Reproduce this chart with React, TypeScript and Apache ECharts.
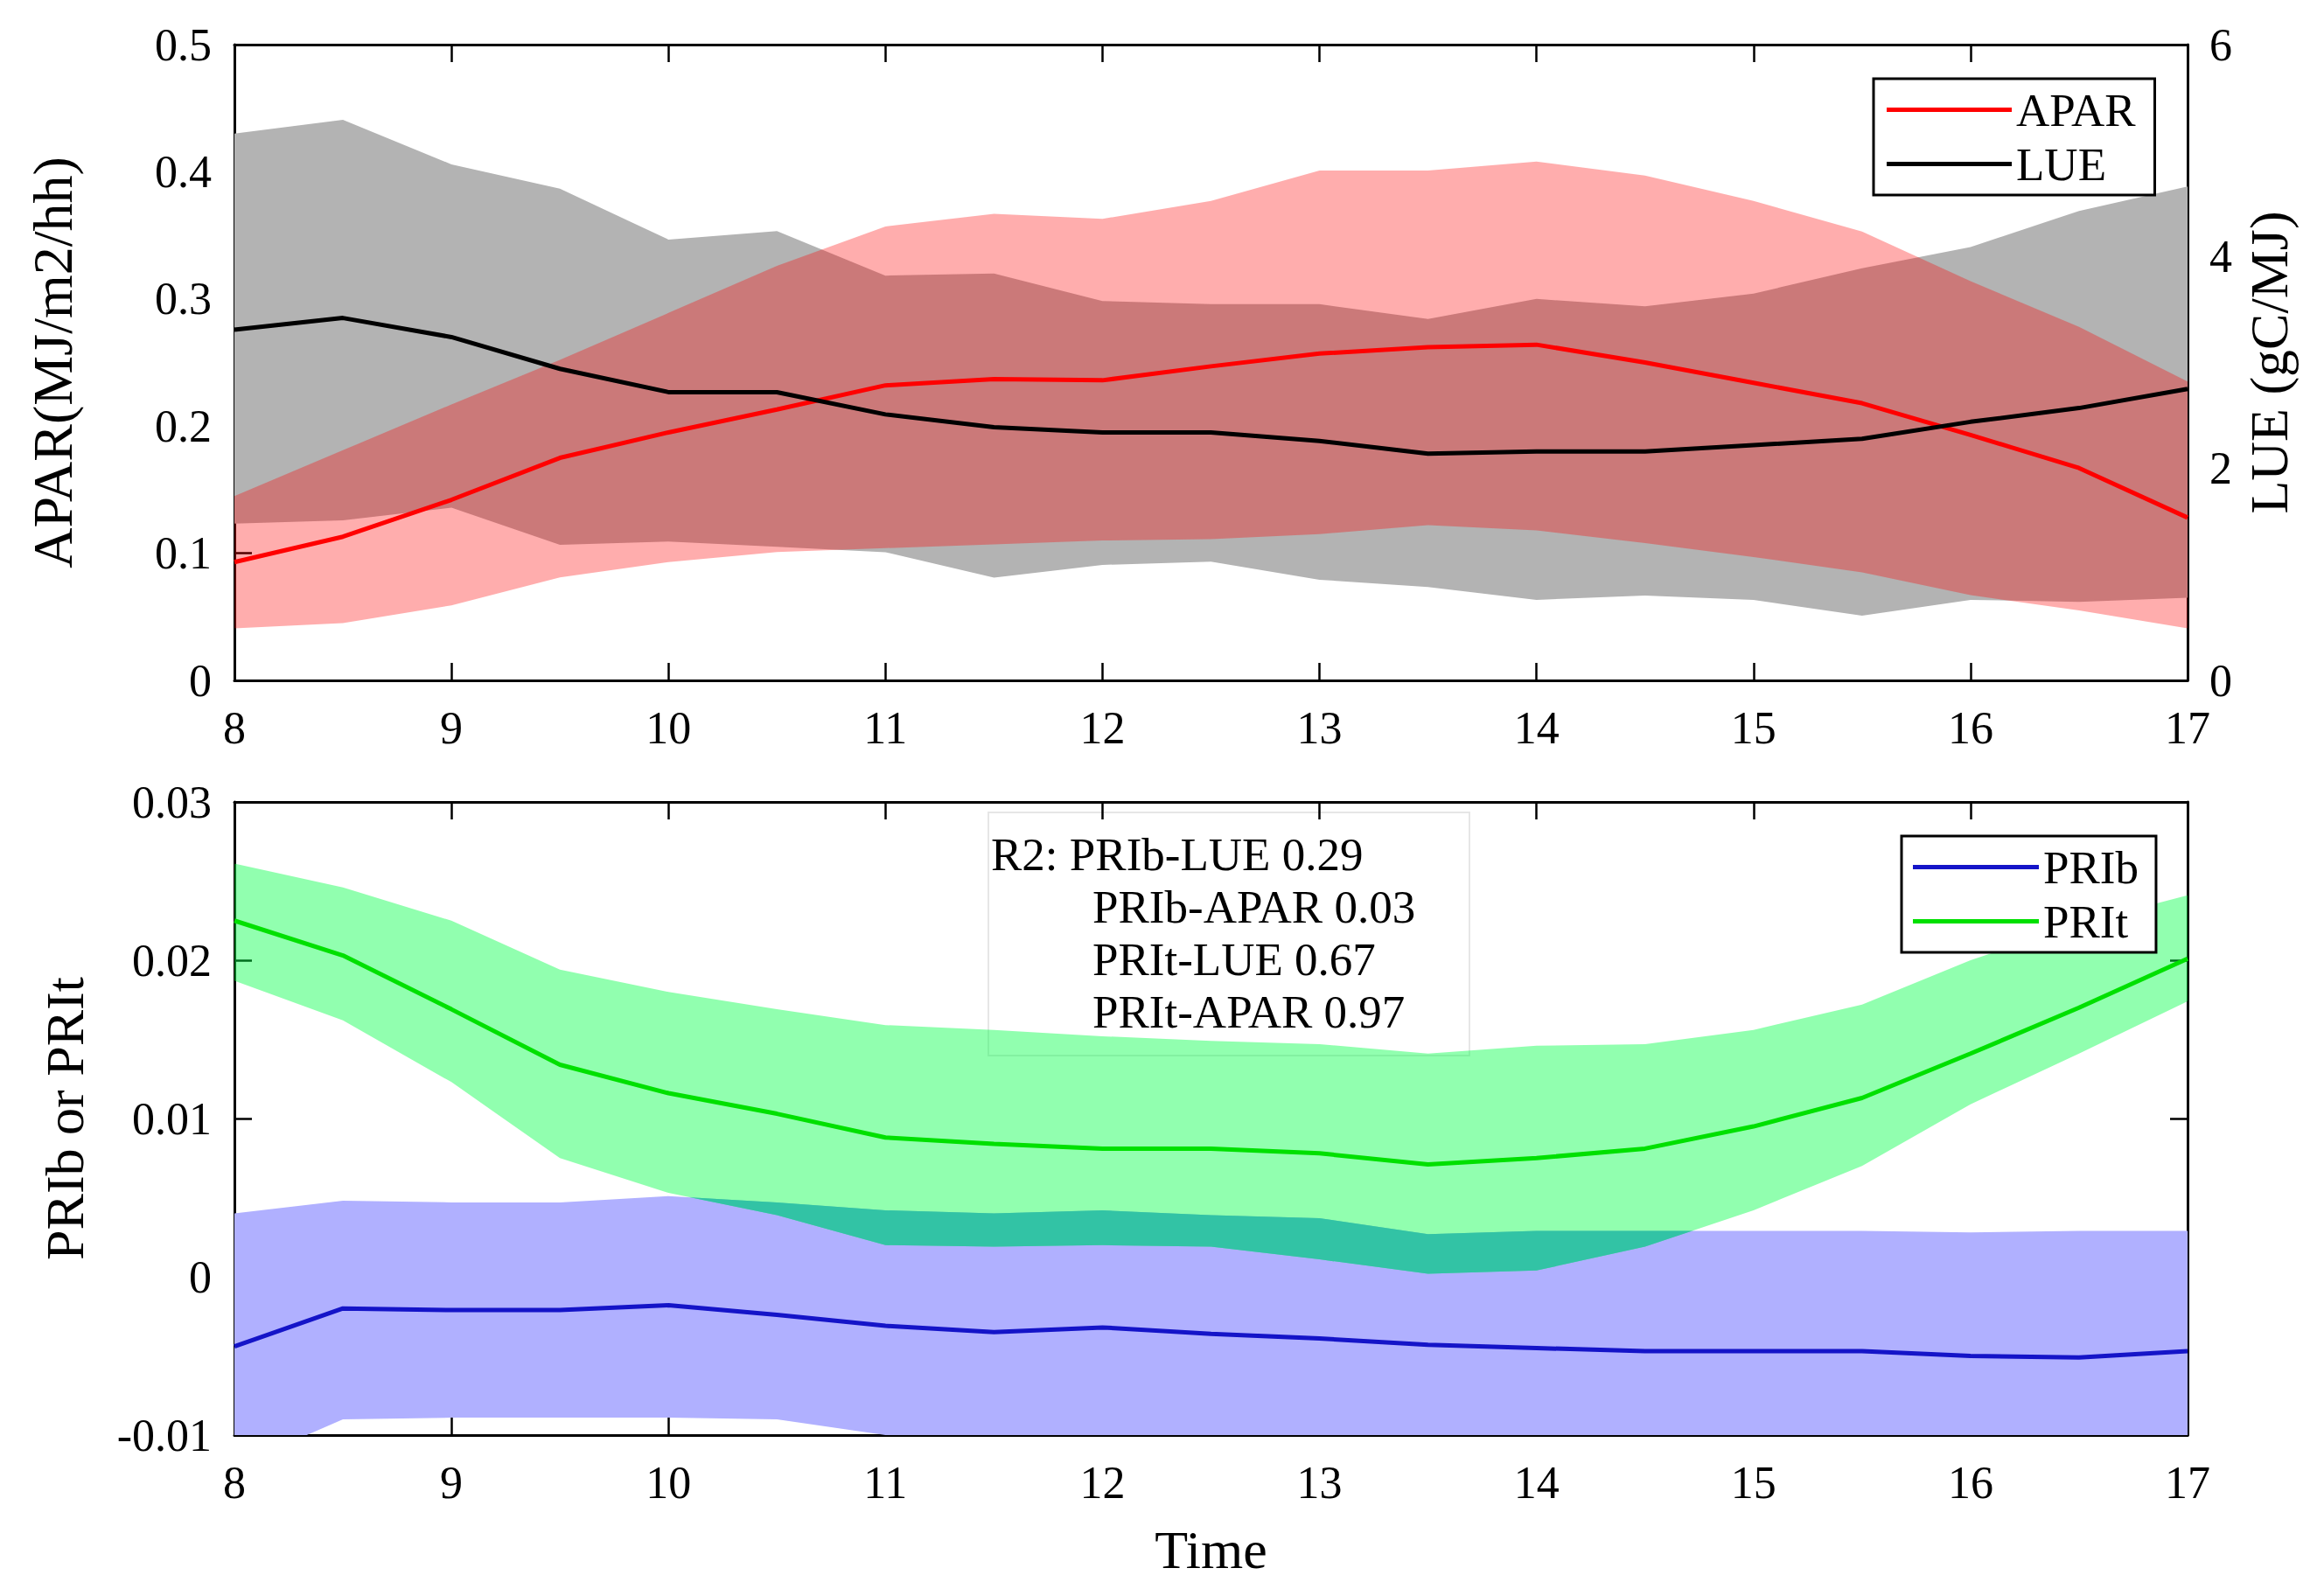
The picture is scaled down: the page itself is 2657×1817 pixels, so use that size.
import React, { useEffect, useRef } from "react";
import * as echarts from "echarts";

const hours = [8, 8.5, 9, 9.5, 10, 10.5, 11, 11.5, 12, 12.5, 13, 13.5, 14, 14.5, 15, 15.5, 16, 16.5, 17];

const aparMean = [0.093, 0.113, 0.142, 0.175, 0.195, 0.213, 0.232, 0.237, 0.236, 0.247, 0.257, 0.262, 0.264, 0.25, 0.234, 0.218, 0.193, 0.167, 0.128];
const aparUpper = [0.145, 0.181, 0.217, 0.252, 0.289, 0.326, 0.357, 0.367, 0.363, 0.377, 0.401, 0.401, 0.408, 0.397, 0.377, 0.353, 0.314, 0.278, 0.235];
const aparLower = [0.041, 0.045, 0.059, 0.081, 0.093, 0.101, 0.104, 0.107, 0.11, 0.111, 0.115, 0.122, 0.118, 0.108, 0.097, 0.085, 0.067, 0.055, 0.041];

const lueMean = [3.31, 3.42, 3.24, 2.94, 2.72, 2.72, 2.51, 2.39, 2.34, 2.34, 2.26, 2.14, 2.16, 2.16, 2.22, 2.28, 2.44, 2.57, 2.75];
const lueUpper = [5.16, 5.29, 4.87, 4.64, 4.16, 4.24, 3.82, 3.84, 3.58, 3.55, 3.55, 3.41, 3.6, 3.53, 3.65, 3.89, 4.09, 4.43, 4.66];
const lueLower = [1.48, 1.51, 1.63, 1.28, 1.31, 1.26, 1.21, 0.97, 1.09, 1.12, 0.95, 0.88, 0.76, 0.8, 0.76, 0.61, 0.76, 0.74, 0.78];

const priB = [-0.0044, -0.002, -0.0021, -0.0021, -0.0018, -0.0024, -0.0031, -0.0035, -0.0032, -0.0036, -0.0039, -0.0043, -0.0045, -0.0047, -0.0047, -0.0047, -0.005, -0.0051, -0.0047];
const priBUpper = [0.004, 0.0048, 0.0047, 0.0047, 0.0051, 0.0047, 0.0042, 0.004, 0.0042, 0.0039, 0.0037, 0.0027, 0.0029, 0.0029, 0.0029, 0.0029, 0.0028, 0.0029, 0.0029];
const priBLower = [-0.012, -0.009, -0.0089, -0.0089, -0.0089, -0.009, -0.01, -0.011, -0.0112, -0.0112, -0.0112, -0.0115, -0.0115, -0.0115, -0.0115, -0.0115, -0.0115, -0.0115, -0.0115];

const priT = [0.0225, 0.0203, 0.0169, 0.0134, 0.0116, 0.0103, 0.0088, 0.0084, 0.0081, 0.0081, 0.0078, 0.0071, 0.0075, 0.0081, 0.0095, 0.0113, 0.0141, 0.017, 0.0201];
const priTUpper = [0.0261, 0.0246, 0.0225, 0.0194, 0.018, 0.0169, 0.0159, 0.0156, 0.0152, 0.0149, 0.0147, 0.0141, 0.0146, 0.0147, 0.0156, 0.0172, 0.02, 0.0223, 0.0241];
const priTLower = [0.0187, 0.0162, 0.0123, 0.0075, 0.0053, 0.0039, 0.002, 0.0019, 0.002, 0.0019, 0.0011, 0.0002, 0.0004, 0.0019, 0.0042, 0.007, 0.0109, 0.0141, 0.0174];

const r2Lines = ["R2: PRIb-LUE 0.29", "PRIb-APAR 0.03", "PRIt-LUE 0.67", "PRIt-APAR 0.97"];

const FONT = "'Liberation Serif', 'Times New Roman', serif";

const pairs = (arr: number[]) => hours.map((h, i) => [h, arr[i]]);

function bandPoints(api: any, lower: number[], upper: number[]) {
  const top = hours.map((h, i) => api.coord([h, upper[i]]));
  const bottom = hours.map((h, i) => api.coord([h, lower[i]])).reverse();
  return [...top, ...bottom];
}

function band(name: string, lower: number[], upper: number[], color: string, xi: number, yi: number) {
  return {
    type: "custom",
    name: name + " range",
    xAxisIndex: xi,
    yAxisIndex: yi,
    silent: true,
    clip: true,
    data: hours.map((h, i) => [h, lower[i], upper[i]]),
    encode: { x: 0, y: [1, 2] },
    renderItem: (params: any, api: any) => {
      if (params.dataIndex !== 0) return null;
      const cs = params.coordSys;
      return {
        type: "polygon",
        shape: { points: bandPoints(api, lower, upper) },
        style: { fill: color, stroke: "none" },
        clipPath: { type: "rect", shape: { x: cs.x, y: cs.y, width: cs.width, height: cs.height } },
      };
    },
  };
}

// overlap of two bands on the same axes: band A's shape clipped by band B's shape
function overlap(name: string, aLo: number[], aUp: number[], bLo: number[], bUp: number[], color: string, xi: number, yi: number) {
  return {
    type: "custom",
    name: name + " overlap",
    xAxisIndex: xi,
    yAxisIndex: yi,
    silent: true,
    clip: true,
    data: hours.map((h, i) => [h, aLo[i], aUp[i]]),
    encode: { x: 0, y: [1, 2] },
    renderItem: (params: any, api: any) => {
      if (params.dataIndex !== 0) return null;
      return {
        type: "polygon",
        shape: { points: bandPoints(api, aLo, aUp) },
        style: { fill: color, stroke: "none" },
        clipPath: { type: "polygon", shape: { points: bandPoints(api, bLo, bUp) } },
      };
    },
  };
}

function meanLine(name: string, data: number[], color: string, xi: number, yi: number) {
  return {
    type: "line", name, data: pairs(data), xAxisIndex: xi, yAxisIndex: yi,
    symbol: "none", lineStyle: { color, width: 5 }, itemStyle: { color }, z: 5,
  };
}

const axisLine = { show: true, onZero: false, lineStyle: { color: "#000", width: 3 } };
const tick = { show: true, inside: true, length: 20, lineStyle: { color: "#000", width: 2.5 } };
const label = { color: "#000", fontFamily: FONT, fontSize: 52 };

function xAxes(grid: number, withName: boolean) {
  return [
    {
      gridIndex: grid, type: "value", min: 8, max: 17, interval: 1, position: "bottom",
      axisLine, axisTick: tick, splitLine: { show: false },
      axisLabel: { ...label, margin: 28 },
      ...(withName
        ? { name: "Time", nameLocation: "middle", nameGap: 100, nameTextStyle: { color: "#000", fontFamily: FONT, fontSize: 62 } }
        : {}),
    },
    {
      gridIndex: grid, type: "value", min: 8, max: 17, interval: 1, position: "top",
      axisLine, axisTick: tick, splitLine: { show: false }, axisLabel: { show: false },
    },
  ];
}

export default function App() {
  const ref = useRef<HTMLDivElement>(null);
  useEffect(() => {
    document.body.style.margin = "0";
    const chart = echarts.init(ref.current!, null, { renderer: "svg" });
    const legendBase = {
      orient: "vertical", icon: "rect", itemHeight: 5, itemGap: 9,
      borderColor: "#000", borderWidth: 3, backgroundColor: "#fff",
      textStyle: { color: "#000", fontFamily: FONT, fontSize: 53 },
      selectedMode: false,
    };
    const option: any = {
      animation: false,
      backgroundColor: "#fff",
      grid: [
        { left: 268, top: 51, width: 2233, height: 727 },
        { left: 268, top: 917, width: 2233, height: 724 },
      ],
      xAxis: [...xAxes(0, false), ...xAxes(1, true)],
      yAxis: [
        {
          gridIndex: 0, type: "value", min: 0, max: 0.5, interval: 0.1, position: "left",
          axisLine, axisTick: tick, splitLine: { show: false }, axisLabel: { ...label, margin: 26 },
          name: "APAR(MJ/m2/hh)", nameLocation: "middle", nameRotate: 90, nameGap: 176,
          nameTextStyle: { color: "#000", fontFamily: FONT, fontSize: 64 },
        },
        {
          gridIndex: 0, type: "value", min: 0, max: 6, interval: 2, position: "right",
          axisLine, axisTick: tick, splitLine: { show: false }, axisLabel: { ...label, margin: 25 },
          name: "LUE (gC/MJ)", nameLocation: "middle", nameRotate: 90, nameGap: 53,
          nameTextStyle: { color: "#000", fontFamily: FONT, fontSize: 62 },
        },
        {
          gridIndex: 1, type: "value", min: -0.01, max: 0.03, interval: 0.01, position: "left",
          axisLine, axisTick: tick, splitLine: { show: false }, axisLabel: { ...label, margin: 26 },
          name: "PRIb or PRIt", nameLocation: "middle", nameRotate: 90, nameGap: 163,
          nameTextStyle: { color: "#000", fontFamily: FONT, fontSize: 62 },
        },
        {
          gridIndex: 1, type: "value", min: -0.01, max: 0.03, interval: 0.01, position: "right",
          axisLine, axisTick: tick, splitLine: { show: false }, axisLabel: { show: false },
        },
      ],
      legend: [
        {
          ...legendBase, data: ["APAR", "LUE"], left: 2142, top: 90,
          itemWidth: 143, padding: [9, 22, 9, 15],
        },
        {
          ...legendBase, data: ["PRIb", "PRIt"], left: 2174, top: 956,
          itemWidth: 144, padding: [9, 20, 9, 13],
        },
      ],
      graphic: [
        {
          type: "group", z: 100,
          children: [
            {
              type: "rect", shape: { x: 1130, y: 929, width: 550, height: 278 },
              style: { fill: "rgba(255,255,255,0.3)", stroke: "#e6e6e6", lineWidth: 2 },
            },
            ...r2Lines.map((t, i) => ({
              type: "text",
              x: i === 0 ? 1133 : 1249,
              y: 977 + i * 60,
              style: {
                text: t, fill: "#000", fontFamily: FONT, fontSize: 53,
                textAlign: "left", textVerticalAlign: "middle", align: "left", verticalAlign: "middle",
              },
            })),
          ],
        },
      ],
      series: [
        band("LUE", lueLower, lueUpper, "#b3b3b3", 0, 1),
        band("APAR", aparLower, aparUpper, "rgba(255,0,0,0.32)", 0, 0),
        meanLine("APAR", aparMean, "#ff0000", 0, 0),
        meanLine("LUE", lueMean, "#000000", 0, 1),
        band("PRIb", priBLower, priBUpper, "#b0b0ff", 2, 2),
        band("PRIt", priTLower, priTUpper, "rgba(0,255,70,0.43)", 2, 2),
        overlap("PRIt-PRIb", priTLower, priTUpper, priBLower, priBUpper, "#32c3a5", 2, 2),
        meanLine("PRIb", priB, "#1414c8", 2, 2),
        meanLine("PRIt", priT, "#00e000", 2, 2),
      ],
    };
    chart.setOption(option);
    return () => chart.dispose();
  }, []);
  return <div ref={ref} style={{ width: 2657, height: 1817, background: "#fff" }} />;
}
